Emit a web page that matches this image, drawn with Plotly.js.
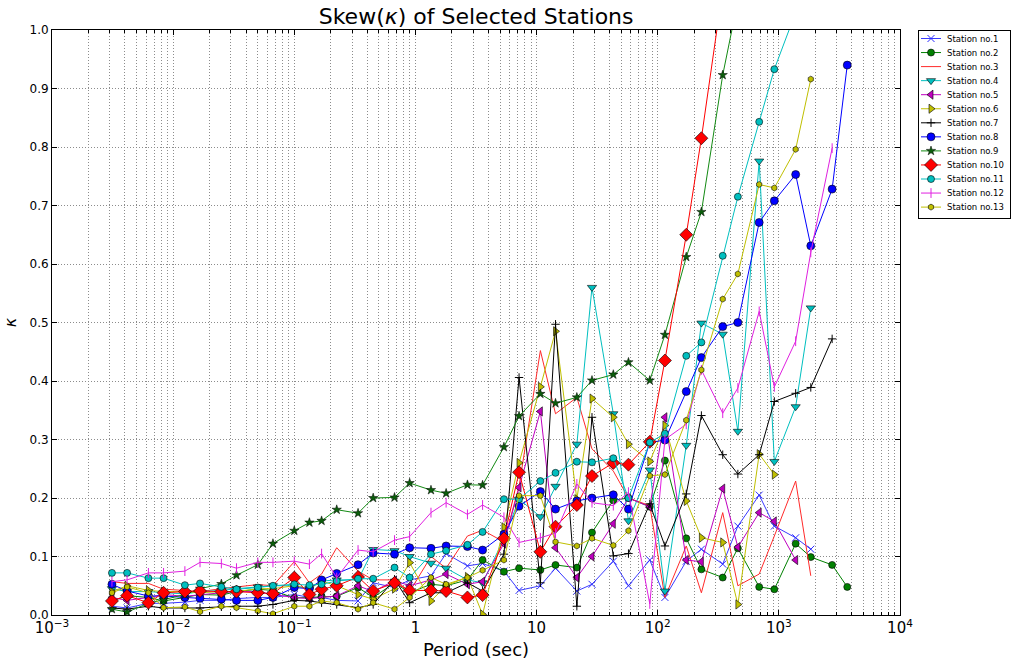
<!DOCTYPE html>
<html>
<head>
<meta charset="utf-8">
<script src="https://cdn.plot.ly/plotly-3.0.1.min.js"></script>
<style>
  html, body { margin: 0; padding: 0; background: #fff; }
  #chart { width: 1013px; height: 660px; }
</style>
</head>
<body>
<div id="chart"></div>
<script>
// Period (sec) sampling grid
const period = [0.003125, 0.0041667, 0.00625, 0.0083333, 0.0125, 0.0166667, 0.025, 0.0333333, 0.05, 0.0666667,
  0.1, 0.1333333, 0.168, 0.224, 0.336, 0.448, 0.672, 0.896, 1.344, 1.792,
  2.688, 3.584, 5.376, 7.168, 10.752, 14.336, 21.504, 28.672, 43.008, 57.344,
  86.016, 114.688, 172.032, 229.376, 344.064, 458.752, 688.128, 917.504, 1376.256, 1835.008,
  2752.512, 3670.016];

const stationNames = ["Station no.1","Station no.2","Station no.3","Station no.4","Station no.5","Station no.6",
  "Station no.7","Station no.8","Station no.9","Station no.10","Station no.11","Station no.12","Station no.13"];

const s1 = [0.015,0.012,0.02,0.02,0.022,0.025,0.025,0.028,0.03,0.03,0.035,0.03,0.03,0.025,0.024,0.055,0.047,0.06,0.067,0.105,
  0.084,0.088,0.075,0.042,0.05,0.08,0.041,0.0525,0.092,0.05,0.094,0.03,0.092,0.1125,0.087,0.152,0.205,0.152,0.132,0.1125];
const s2 = [0.024,0.033,0.03,0.024,0.03,0.035,0.034,0.04,0.044,0.042,0.029,0.03,0.032,0.032,0.047,0.03,0.055,0.038,0.0525,0.05,
  0.06,0.094,0.074,0.08,0.077,0.0855,0.081,0.141,0.196,0.2,0.185,0.264,0.131,0.078,0.064,0.114,0.048,0.044,0.122,0.099,
  0.0856,0.048];
const s3 = [0.057,0.054,0.054,0.044,0.042,0.04,0.045,0.048,0.052,0.05,0.091,0.055,0.07,0.115,0.075,0.06,0.06,0.04,0.1,0.08,
  0.135,0.145,0.125,0.22,0.452,0.344,0.372,0.284,0.246,0.2,0.187,0.03,0.118,0.038,0.175,0.05,0.07,0.135,0.229,0.067];
const s4 = [0.045,0.04,0.04,0.038,0.036,0.04,0.042,0.045,0.048,0.05,0.05,0.045,0.058,0.06,0.06,0.112,0.11,0.1,0.0885,0.08,
  0.06,0.055,0.13,0.198,0.168,0.22,0.292,0.56,0.344,0.161,0.248,0.041,0.29,0.499,0.48,0.314,0.776,0.2625,0.356,0.525];
const s5 = [0.03,0.025,0.03,0.035,0.032,0.035,0.038,0.04,0.04,0.035,0.03,0.028,0.03,0.0325,0.05,0.04,0.059,0.05,0.06,0.07,
  0.0525,0.057,0.122,0.218,0.348,0.115,0.064,0.1,0.156,0.2,0.185,0.338,0.094,0.091,0.216,0.116,0.175,0.16,0.094];
const s6 = [0.04,0.05,0.042,0.04,0.04,0.038,0.04,0.04,0.045,0.045,0.05,0.045,0.058,0.05,0.035,0.027,0.045,0.0895,0.024,0.05,
  0.065,0.001,0.15,0.26,0.39,0.485,0.198,0.37,0.338,0.292,0.2625,0.324,0.195,0.132,0.124,0.018,0.275,0.24];
const s7 = [0.012,0.01,0.015,0.012,0.012,0.012,0.014,0.015,0.015,0.018,0.025,0.024,0.021,0.018,0.0125,0.018,0.061,0.021,0.038,0.038,
  0.055,0.041,0.104,0.406,0.055,0.497,0.015,0.338,0.101,0.105,0.19,0.118,0.207,0.341,0.274,0.241,0.274,0.365,0.379,0.389,
  0.472];
const s8 = [0.0525,0.041,0.0325,0.0325,0.03,0.0285,0.027,0.025,0.025,0.03,0.047,0.045,0.06,0.071,0.086,0.106,0.104,0.115,0.114,0.118,
  0.117,0.111,0.138,0.186,0.211,0.181,0.195,0.2,0.2055,0.181,0.295,0.299,0.382,0.44,0.493,0.5,0.671,0.708,0.753,0.631,
  0.728,0.94];
const s9 = [0.01,0.005,0.02,0.026,0.035,0.045,0.053,0.068,0.086,0.122,0.144,0.158,0.161,0.18,0.174,0.2,0.201,0.2255,0.2135,0.208,
  0.2226,0.222,0.287,0.34,0.378,0.362,0.372,0.401,0.411,0.432,0.401,0.479,0.612,0.689,0.923,1.05];
const s10 = [0.024,0.033,0.021,0.038,0.04,0.041,0.04,0.04,0.038,0.0365,0.064,0.035,0.044,0.05,0.065,0.041,0.055,0.042,0.042,0.041,
  0.03,0.034,0.131,0.244,0.108,0.151,0.188,0.2375,0.26,0.257,0.296,0.435,0.65,0.815,1.07];
const s11 = [0.072,0.072,0.063,0.063,0.051,0.054,0.048,0.044,0.047,0.05,0.0525,0.051,0.0525,0.058,0.062,0.062,0.081,0.064,0.104,0.11,
  0.12,0.142,0.198,0.198,0.229,0.243,0.262,0.261,0.268,0.2,0.295,0.31,0.443,0.466,0.614,0.715,0.843,0.933,1.03];
const s12 = [0.057,0.06,0.072,0.072,0.075,0.09,0.088,0.08,0.09,0.09,0.092,0.087,0.105,0.064,0.111,0.108,0.128,0.134,0.175,0.192,
  0.172,0.188,0.167,0.124,0.132,0.14,0.224,0.192,0.187,0.21,0.019,0.3,0.326,0.419,0.345,0.388,0.519,0.39,0.468,0.62,
  0.798];
const s13 = [0.038,0.048,0.038,0.0125,0.0137,0.0057,0.015,0.0125,0.007,0.002,0.015,0.015,0.024,0.021,0.01,0.021,0.01,0.03,0.064,0.0525,
  0.064,0.0765,0.094,0.204,0.204,0.125,0.118,0.131,0.119,0.144,0.238,0.24,0.333,0.419,0.54,0.583,0.736,0.73,0.796,0.916];

const seriesValues = [s1,s2,s3,s4,s5,s6,s7,s8,s9,s10,s11,s12,s13];

// styles (matplotlib-like)
const styles = [
  {line:'#3a3aff', mode:'lines+markers', marker:{symbol:'x-thin-open', size:7, color:'#2a2aff', line:{width:1, color:'#2a2aff'}}},
  {line:'#008000', mode:'lines+markers', marker:{symbol:'circle', size:7, color:'#008000', line:{width:0.6, color:'#000'}}},
  {line:'#ff2a2a', mode:'lines', marker:{}},
  {line:'#00BFBF', mode:'lines+markers', marker:{symbol:'triangle-down', size:8, color:'#00BFBF', line:{width:0.6, color:'#000'}}},
  {line:'#BF00BF', mode:'lines+markers', marker:{symbol:'triangle-left', size:8, color:'#BF00BF', line:{width:0.6, color:'#000'}}},
  {line:'#BFBF00', mode:'lines+markers', marker:{symbol:'triangle-right', size:8, color:'#BFBF00', line:{width:0.6, color:'#000'}}},
  {line:'#000000', mode:'lines+markers', marker:{symbol:'cross-thin-open', size:6, color:'#000', line:{width:1, color:'#000'}}},
  {line:'#0000ff', mode:'lines+markers', marker:{symbol:'circle', size:8, color:'#0000ff', line:{width:0.6, color:'#000'}}},
  {line:'#138a13', mode:'lines+markers', marker:{symbol:'star', size:7, color:'#0b5e0b', line:{width:0.5, color:'#000'}}},
  {line:'#ff0000', mode:'lines+markers', marker:{symbol:'diamond', size:10, color:'#ff0000', line:{width:0.6, color:'#000'}}},
  {line:'#00BFBF', mode:'lines+markers', marker:{symbol:'circle', size:7, color:'#00BFBF', line:{width:0.6, color:'#000'}}},
  {line:'#e020e0', mode:'lines+markers', marker:{symbol:'line-ns-open', size:7, color:'#e020e0', line:{width:1, color:'#e020e0'}}},
  {line:'#BFBF00', mode:'lines+markers', marker:{symbol:'hexagon', size:6, color:'#BFBF00', line:{width:0.6, color:'#000'}}}
];

const traces = seriesValues.map((vals, k) => ({
  type: 'scatter',
  name: stationNames[k],
  x: period.slice(0, vals.length),
  y: vals,
  mode: styles[k].mode,
  line: {color: styles[k].line, width: 1},
  marker: styles[k].marker,
  cliponaxis: true
}));

const gridCol = '#8c8c8c';
const gridDash = '1px,2px';
const layout = {
  width: 1013, height: 660,
  margin: {l: 52, r: 113, t: 30, b: 45},
  paper_bgcolor: '#fff', plot_bgcolor: '#fff',
  font: {family: 'DejaVu Sans, sans-serif', size: 12, color: '#000'},
  title: {text: 'Skew(<i>κ</i>) of Selected Stations', font: {size: 22}, x: 0.47, xanchor: 'center', y: 0.987, yanchor: 'top'},
  showlegend: true,
  legend: {xref: 'container', yref: 'container', x: 918/1013, xanchor: 'left', y: 1 - 30/660, yanchor: 'top',
           bgcolor: '#fff', bordercolor: '#000', borderwidth: 1,
           font: {size: 8.5}, itemwidth: 30, tracegroupgap: 0},
  xaxis: {
    type: 'log', range: [-3, 4], dtick: 1, exponentformat: 'power',
    showline: true, linecolor: '#000', linewidth: 1, mirror: 'ticks',
    ticks: 'inside', ticklen: 5, tickcolor: '#000',
    showgrid: true, gridcolor: gridCol, griddash: gridDash, gridwidth: 1,
    minor: {dtick: 'D1', ticks: 'inside', ticklen: 3, tickcolor: '#000', showgrid: true, gridcolor: gridCol, griddash: gridDash, gridwidth: 1},
    zeroline: false,
    tickfont: {size: 12},
    title: {text: 'Period (sec)', font: {size: 18}, standoff: 6}
  },
  yaxis: {
    range: [0, 1], dtick: 0.1, tickformat: '.1f',
    showline: true, linecolor: '#000', linewidth: 1, mirror: 'ticks',
    ticks: 'inside', ticklen: 5, tickcolor: '#000',
    showgrid: true, gridcolor: gridCol, griddash: gridDash, gridwidth: 1,
    zeroline: false,
    tickfont: {size: 12},
    title: {text: '<i>κ</i>', font: {size: 16}, standoff: 8}
  }
};

const gd = document.getElementById('chart');
Plotly.newPlot(gd, traces, layout, {staticPlot: true, displayModeBar: false}).then(() => {
  // compact matplotlib-style legend: shorter handles, tighter rows, fixed box
  const items = gd.querySelectorAll('.legend .traces');
  if (items.length < 2) return;
  const getY = g => {
    const m = /translate\(\s*[-\d.]+\s*,\s*([-\d.]+)\s*\)/.exec(g.getAttribute('transform') || '');
    return m ? parseFloat(m[1]) : 0;
  };
  const y0 = getY(items[0]);
  const step = 14.05;
  const boxW = 92, boxH = 188;
  items.forEach((g, i) => {
    g.setAttribute('transform', 'translate(0,' + (y0 - 7 + i * step) + ')');
    g.querySelectorAll('text.legendtext').forEach(t => t.setAttribute('x', 29));
    g.querySelectorAll('.legendlines path').forEach(p => p.setAttribute('d', 'M3,0h20'));
    g.querySelectorAll('.legendpoints path.scatterpts').forEach(p => p.setAttribute('transform', 'translate(13,0)'));
  });
  const bg = gd.querySelector('.legend .bg');
  if (bg) { bg.setAttribute('width', boxW); bg.setAttribute('height', boxH); }
  gd.querySelectorAll('clipPath').forEach(cp => {
    if ((cp.id || '').indexOf('legend') >= 0) {
      cp.querySelectorAll('rect').forEach(r => { r.setAttribute('width', boxW); r.setAttribute('height', boxH); });
    }
  });
  const sb = gd.querySelector('.legend .scrollbox');
  if (sb) sb.removeAttribute('clip-path');
});
</script>
</body>
</html>
